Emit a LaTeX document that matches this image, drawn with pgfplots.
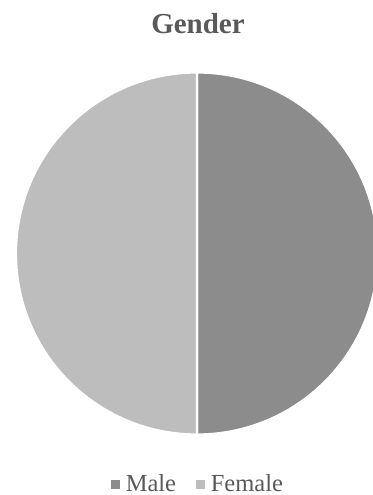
\documentclass[border=0pt]{standalone}
\usepackage{pgfplots}
\usepackage{pgfplotstable}
\pgfplotsset{compat=1.18}
\usepackage{fontspec}
\setmainfont{Liberation Serif}
\definecolor{malecol}{HTML}{8C8C8C}
\definecolor{femalecol}{HTML}{BDBDBD}
\definecolor{txtcol}{HTML}{595959}
\pgfplotstableread{
label value
Male 50
Female 50
}\gendertable
\pgfplotstablegetelem{0}{value}\of\gendertable \let\valmale\pgfplotsretval
\pgfplotstablegetelem{1}{value}\of\gendertable \let\valfemale\pgfplotsretval
\pgfmathsetmacro{\angmale}{360*(\valmale/(\valmale+\valfemale))}
\pgfmathsetmacro{\angfemale}{360*(\valfemale/(\valmale+\valfemale))}
\pgfmathsetmacro{\startfemale}{90-\angmale}
\pgfmathsetmacro{\endfemale}{90-\angmale-\angfemale}
\pgfmathsetmacro{\endmale}{90-\angmale}
\begin{document}
\begin{tikzpicture}
\useasboundingbox (0bp,0bp) rectangle (373bp,-495bp);
\node[anchor=base, text=txtcol, font=\fontsize{29bp}{34bp}\selectfont\bfseries] at (198bp,-33.3bp) {Gender};
\begin{axis}[
  at={(197bp,-253.5bp)}, anchor=center,
  x=181bp, y=181bp,
  xmin=-1, xmax=1, ymin=-1, ymax=1,
  hide axis, clip=false,
  legend columns=2,
  legend style={at={(0.5,-0.1367)}, anchor=center, draw=none, fill=none,
    font=\fontsize{24.5bp}{28bp}\selectfont, text=txtcol,
    /tikz/every odd column/.append style={column sep=6.3bp},
    /tikz/every even column/.append style={column sep=19bp},
    nodes={inner sep=0.5bp}},
  legend image code/.code={\fill[#1] (0bp,-4bp) rectangle (8bp,4bp);},
]
\fill[malecol, draw=white, line width=2.2bp] (axis cs:0,0) -- ++(90:181bp)
  arc[start angle=90, end angle=\endmale, radius=181bp] -- cycle;
\fill[femalecol, draw=white, line width=2.2bp] (axis cs:0,0) -- ++(\startfemale:181bp)
  arc[start angle=\startfemale, end angle=\endfemale, radius=181bp] -- cycle;
\addlegendimage{malecol}
\addlegendentry{Male}
\addlegendimage{femalecol}
\addlegendentry{Female}
\end{axis}
\end{tikzpicture}
\end{document}
